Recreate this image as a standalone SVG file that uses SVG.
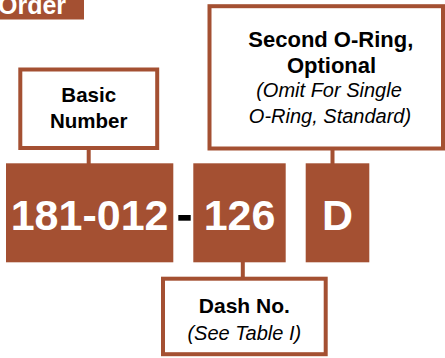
<svg xmlns="http://www.w3.org/2000/svg" width="445" height="358" viewBox="0 0 445 358">
<style>
.box{fill:#fff;stroke:#A45032;stroke-width:4}
.blk{fill:#A45032}
.conn{stroke:#A45032;stroke-width:4;fill:none}
.b{font-family:"Liberation Sans",Arial,sans-serif;font-weight:bold;font-size:21px;fill:#000;text-anchor:middle}
.i{font-family:"Liberation Sans",Arial,sans-serif;font-style:italic;font-size:20px;fill:#000;text-anchor:middle}
.big{font-family:"Liberation Sans",Arial,sans-serif;font-weight:bold;font-size:43px;fill:#fff;text-anchor:middle}
</style>
<rect width="445" height="358" fill="#fff"/>
<g id="title">
<rect class="blk" x="0" y="0" width="84" height="19.5"/>
<text x="-2" y="13.5" font-family="Liberation Sans, Arial, sans-serif" font-weight="bold" font-size="25" fill="#fff">Order</text>
</g>
<g id="connectors">
<line class="conn" x1="88.7" y1="150" x2="88.7" y2="164"/>
<line class="conn" x1="332.5" y1="150" x2="332.5" y2="164"/>
<line class="conn" x1="242.8" y1="262" x2="242.8" y2="277"/>
</g>
<g id="basic">
<rect class="box" x="20.3" y="69.5" width="136.9" height="78.5"/>
<text class="b" x="88.7" y="101.7" style="font-size:20.5px">Basic</text>
<text class="b" x="88.7" y="128.3" style="font-size:20.5px">Number</text>
</g>
<g id="second">
<rect class="box" x="209.5" y="6.2" width="233.5" height="142.3"/>
<text class="b" x="330.8" y="46.7" style="font-size:22px">Second O-Ring,</text>
<text class="b" x="331.5" y="72.5" style="font-size:22px">Optional</text>
<text class="i" x="329" y="97">(Omit For Single</text>
<text class="i" x="330" y="123.3">O-Ring, Standard)</text>
</g>
<g id="dash">
<rect class="box" x="163" y="278.7" width="162.7" height="75.5"/>
<text class="b" x="244.3" y="313.3">Dash No.</text>
<text class="i" x="244.3" y="340">(See Table I)</text>
</g>
<g id="part181">
<rect class="blk" x="6" y="163.3" width="167.3" height="99"/>
<text class="big" x="89.6" y="230">181-012</text>
</g>
<g id="hyphen">
<rect x="178.3" y="215" width="12.4" height="5.7" fill="#000"/>
</g>
<g id="part126">
<rect class="blk" x="193.3" y="163.3" width="92.4" height="99"/>
<text class="big" x="239.5" y="230">126</text>
</g>
<g id="partD">
<rect class="blk" x="305.7" y="163.3" width="63.6" height="99"/>
<text class="big" x="337.5" y="230">D</text>
</g>
</svg>
